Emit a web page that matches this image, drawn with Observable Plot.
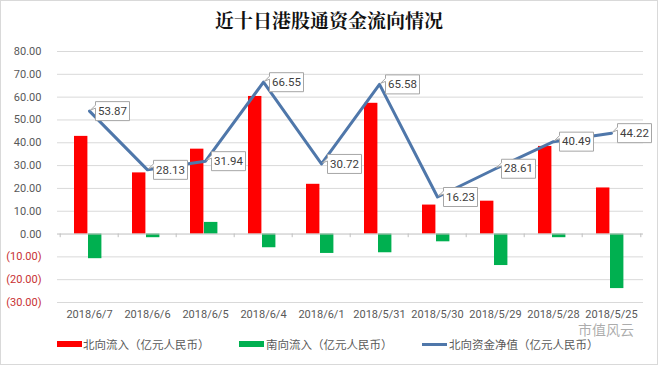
<!DOCTYPE html>
<html><head><meta charset="utf-8">
<script src="https://cdn.jsdelivr.net/npm/d3@7"></script>
<script src="https://cdn.jsdelivr.net/npm/@observablehq/plot@0.6"></script>
<style>
body{margin:0;background:#fff;}
#wrap{position:relative;width:658px;height:365px;overflow:hidden;font-family:"Noto Sans CJK SC",sans-serif;background:#fff;}
#title{position:absolute;left:0;top:0;width:658px;height:40px;line-height:40px;text-align:center;font-size:19px;font-weight:bold;color:#111;font-family:"Noto Serif CJK SC","Noto Sans CJK SC",serif;}
#chart{position:absolute;left:0;top:40px;}
.lg{position:absolute;top:337px;height:14px;line-height:14px;font-size:11.5px;color:#595959;white-space:nowrap;}
.sw{position:absolute;}
#wm{position:absolute;left:578px;top:322px;font-size:14px;line-height:15px;height:15px;color:rgba(90,90,90,0.5);text-shadow:0 0 1px #fff;}
#border{position:absolute;left:0;top:0;width:656px;height:363px;border:1px solid #d9d9d9;pointer-events:none;}
</style></head><body>
<div id="wrap">
 <div id="title">近十日港股通资金流向情况</div>
 <div id="chart"></div>
 <div id="legend"></div>
 <div id="wm">市值风云</div>
 <div id="border"></div>
</div>
<script>
const dates = ["2018/6/7","2018/6/6","2018/6/5","2018/6/4","2018/6/1","2018/5/31","2018/5/30","2018/5/29","2018/5/28","2018/5/25"];
const northFlow = [42.8, 26.8, 37.2, 60.3, 21.8, 57.3, 12.7, 14.4, 38.4, 20.2];
const southFlow = [-10.8, -1.6, 5.1, -6.0, -8.5, -8.2, -3.4, -13.8, -1.6, -23.9];
const northNet = [53.87, 28.13, 31.94, 66.55, 30.72, 65.58, 16.23, 28.61, 40.49, 44.22];
const yTicks = [80, 70, 60, 50, 40, 30, 20, 10, 0, -10, -20, -30];
const seriesNames = ["北向流入（亿元人民币）", "南向流入（亿元人民币）", "北向资金净值（亿元人民币）"];
const colors = {north: "#ff0000", south: "#00b050", net: "#4f77aa"};

const fmt = v => v < 0 ? `(${Math.abs(v).toFixed(2)})` : v.toFixed(2);
const rows = dates.map((d, i) => ({date: d, north: northFlow[i], south: southFlow[i], net: northNet[i]}));

const callout = {draw(ctx) {
  ctx.moveTo(1, -1);
  ctx.lineTo(6, -6);
  ctx.lineTo(6, -9.5);
  ctx.lineTo(40, -9.5);
  ctx.lineTo(40, 9.5);
  ctx.lineTo(6, 9.5);
  ctx.lineTo(6, -3);
  ctx.closePath();
}};

const bw = (658 - 57 - 15) / dates.length;

const plot = Plot.plot({
  width: 658, height: 290,
  marginLeft: 57, marginRight: 15, marginTop: 11, marginBottom: 28,
  x: {type: "band", domain: dates, padding: 0, axis: null},
  y: {domain: [-30, 80], axis: null},
  style: {fontFamily: "Roboto, 'Noto Sans', sans-serif", fontSize: "11px", background: "transparent", overflow: "visible"},
  marks: [
    Plot.ruleY(yTicks.filter(t => t !== 0), {y: d => d, stroke: "#d9d9d9", strokeWidth: 1}),
    Plot.text(yTicks.filter(t => t >= 0), {y: d => d, text: fmt, frameAnchor: "left", textAnchor: "end", dx: -16, fill: "#595959"}),
    Plot.text(yTicks.filter(t => t < 0), {y: d => d, text: fmt, frameAnchor: "left", textAnchor: "end", dx: -16, fill: "#c83232"}),
    Plot.barY(rows, {x: "date", y: "north", fill: colors.north, insetLeft: 14, insetRight: bw - 28}),
    Plot.barY(rows, {x: "date", y: "south", fill: colors.south, insetLeft: 28, insetRight: bw - 42}),
    Plot.ruleY([0], {stroke: "#bfbfbf", strokeWidth: 1}),
    Plot.ruleX(dates, {x: d => d, dx: -bw / 2, y1: 0, y2: -1.6, stroke: "#bfbfbf"}),
    Plot.ruleX(dates.slice(-1), {x: d => d, dx: bw / 2, y1: 0, y2: -1.6, stroke: "#bfbfbf"}),
    Plot.text(dates, {x: d => d, text: d => d, frameAnchor: "bottom", dy: 15, fill: "#595959"}),
    Plot.line(rows, {x: "date", y: "net", stroke: colors.net, strokeWidth: 3}),
    Plot.dot(rows, {x: "date", y: "net", symbol: callout, fill: "white", stroke: "#a6a6a6", strokeWidth: 1}),
    Plot.text(rows, {x: "date", y: "net", text: d => d.net.toFixed(2), dx: 23, fill: "#404040", fontSize: 11.5})
  ]
});
document.getElementById("chart").appendChild(plot);

const legend = document.getElementById("legend");
const items = [
  {sw: 57, tx: 83, color: colors.north, h: 6, top: 341},
  {sw: 239, tx: 266, color: colors.south, h: 6, top: 341},
  {sw: 422, tx: 449, color: colors.net, h: 3, top: 343}
];
items.forEach((it, i) => {
  const s = document.createElement("div");
  s.className = "sw";
  s.style.cssText = `left:${it.sw}px;top:${it.top}px;width:25px;height:${it.h}px;background:${it.color};`;
  legend.appendChild(s);
  const t = document.createElement("div");
  t.className = "lg";
  t.style.left = it.tx + "px";
  t.textContent = seriesNames[i];
  legend.appendChild(t);
});
</script>
</body></html>
